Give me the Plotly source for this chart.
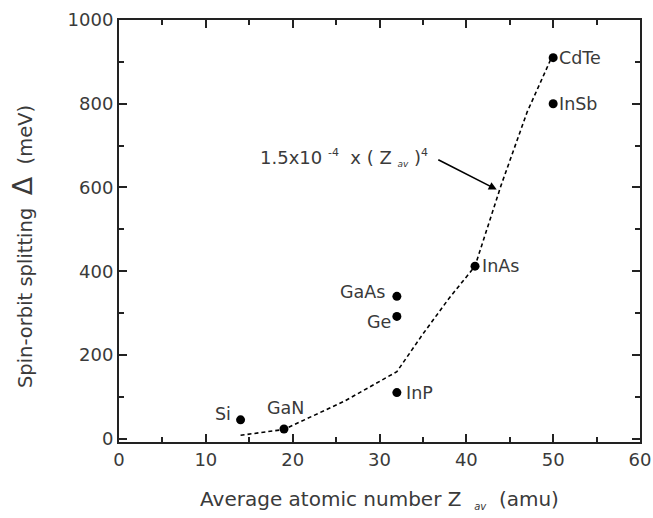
import plotly.graph_objects as go

# Measured data points
materials = ["Si", "GaN", "InP", "Ge", "GaAs", "InAs", "CdTe", "InSb"]
z_av = [14, 19, 32, 32, 32, 41, 50, 50]
delta = [45, 23, 110, 292, 340, 412, 910, 800]

# Dashed guide curve
curve_z = [14, 19, 26, 32, 35, 38, 41, 44, 47, 49.7]
curve_delta = [8, 22, 90, 160, 250, 335, 412, 605, 780, 905]

# Label placement for each material
label_pos = {
    "Si": dict(xanchor="right", yanchor="middle", xshift=-8, yshift=6),
    "GaN": dict(xanchor="center", yanchor="bottom", xshift=2, yshift=9),
    "InP": dict(xanchor="left", yanchor="middle", xshift=7, yshift=0),
    "Ge": dict(xanchor="right", yanchor="middle", xshift=-4, yshift=-6),
    "GaAs": dict(xanchor="right", yanchor="middle", xshift=-10, yshift=4),
    "InAs": dict(xanchor="left", yanchor="middle", xshift=5, yshift=0),
    "CdTe": dict(xanchor="left", yanchor="middle", xshift=4, yshift=0),
    "InSb": dict(xanchor="left", yanchor="middle", xshift=4, yshift=0),
}

FONT = "DejaVu Sans, Verdana, sans-serif"
TXT = "#3a3a3a"

fig = go.Figure()
fig.add_trace(go.Scatter(
    x=curve_z, y=curve_delta, mode="lines",
    line=dict(color="black", width=1.6, dash="4px,3px"),
    showlegend=False, hoverinfo="skip"))
fig.add_trace(go.Scatter(
    x=z_av, y=delta, mode="markers",
    marker=dict(color="black", size=9, symbol="circle"),
    showlegend=False))

annotations = []
for m, zx, dy in zip(materials, z_av, delta):
    p = label_pos[m]
    annotations.append(dict(x=zx, y=dy, xref="x", yref="y", text=m,
                            showarrow=False, font=dict(size=17.5, color=TXT, family=FONT),
                            **p))

# formula text
annotations.append(dict(
    x=16.0, y=672, xref="x", yref="y", xanchor="left", yanchor="middle",
    text=("1.5x10 <sup><span style='font-size:11px'>-4</span></sup>&nbsp; x ( Z "
          "<sub><i><span style='font-size:9px'>av</span></i></sub> )<sup><span style='font-size:11px'>4</span></sup>"),
    showarrow=False, font=dict(size=18, color=TXT, family=FONT)))
# arrow
annotations.append(dict(
    x=43.5, y=595, ax=36.6, ay=668, xref="x", yref="y", axref="x", ayref="y",
    text="", showarrow=True, arrowhead=2, arrowsize=1, arrowwidth=1.6,
    arrowcolor="black", standoff=0, startstandoff=0))

fig.update_layout(
    width=653, height=518,
    margin=dict(l=119, r=13, t=20, b=76, autoexpand=False),
    paper_bgcolor="white", plot_bgcolor="white",
    font=dict(family=FONT, color=TXT, size=18),
    annotations=annotations,
)
fig.update_xaxes(
    range=[0, 60], tickvals=[0, 10, 20, 30, 40, 50, 60], automargin=False,
    ticks="inside", ticklen=8, tickwidth=1.5, tickcolor="#222",
    minor=dict(tickvals=[5, 15, 25, 35, 45, 55], ticks="inside", ticklen=5, tickwidth=1.5, tickcolor="#222"),
    showline=True, linecolor="#222", linewidth=2, mirror="allticks",
    showgrid=False, zeroline=False,
    tickfont=dict(size=18, color=TXT),
    title=dict(text="Average atomic number Z  <sub><i><span style='font-size:10px'>av</span></i></sub>  (amu)",
               font=dict(size=20, color=TXT), standoff=23),
)
fig.update_yaxes(
    range=[-8, 1000], tickvals=[0, 200, 400, 600, 800, 1000], automargin=False,
    ticks="inside", ticklen=8, tickwidth=1.5, tickcolor="#222",
    minor=dict(tickvals=[100, 300, 500, 700, 900], ticks="inside", ticklen=5, tickwidth=1.5, tickcolor="#222"),
    showline=True, linecolor="#222", linewidth=2, mirror="allticks",
    showgrid=False, zeroline=False,
    tickfont=dict(size=18, color=TXT),
    title=dict(text="Spin-orbit splitting &nbsp;<span style='font-size:27px'>Δ</span> &nbsp;(meV)&nbsp;&nbsp;&nbsp;&nbsp;&nbsp;",
               font=dict(size=19.5, color=TXT), standoff=30),
)

fig.write_html("out.html", config={"displayModeBar": False},
               post_script="document.body.style.margin='0';document.body.style.overflow='hidden';")
